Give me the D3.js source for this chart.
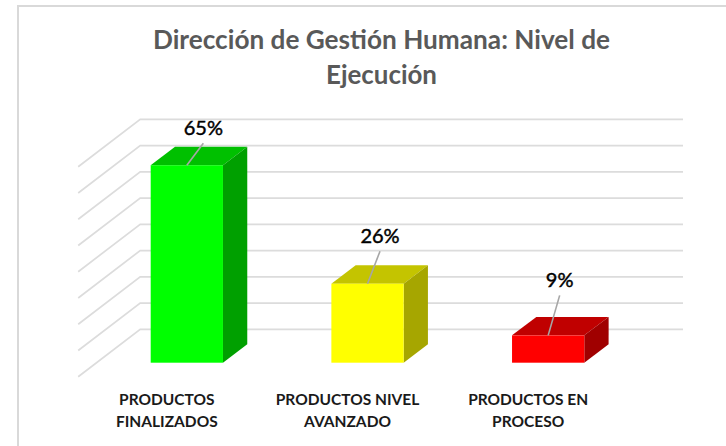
<!DOCTYPE html>
<html>
<head>
<meta charset="utf-8">
<script src="https://cdn.jsdelivr.net/npm/d3@7"></script>
<style>
html, body { margin: 0; padding: 0; background: #fff; }
svg { display: block; }
text { font-family: Lato, sans-serif; }
</style>
</head>
<body>
<div id="chart"></div>
<script>
var w = 726;
var h = 446;

var titleLines = ["Dirección de Gestión Humana: Nivel de", "Ejecución"];
var categories = [["PRODUCTOS", "FINALIZADOS"], ["PRODUCTOS NIVEL", "AVANZADO"], ["PRODUCTOS EN", "PROCESO"]];
var values = [65, 26, 9];
var gridTicks = [0, 8.64, 17.28, 25.92, 34.56, 43.2, 51.84, 60.48, 69.12];

// colours per bar: front, top, side
var barColors = [
    ["#00ff00", "#00c000", "#00a000"],
    ["#ffff00", "#c4c400", "#a6a600"],
    ["#ff0000", "#c00000", "#a00000"]
];
// where the leader line ends, relative to the middle of the bar top
var leaderEnds = [[16.5, -22], [12.5, -32.5], [11.5, -40]];
// the title font is wider than the reference, so squeeze each line to this length
var titleWidths = [457, 111];

var depthX = 24.3;
var depthY = 18.4;
var floorX = 18.3;   // bars stand this far into the floor
var floorY = 14;

var svg = d3.select("#chart")
    .append("svg")
    .attr("width", w)
    .attr("height", h);

// chart frame
svg.append("path")
    .attr("d", "M18," + h + "V6H" + w)
    .attr("fill", "none")
    .attr("stroke", "#d9d9d9")
    .attr("stroke-width", 2);

//Create scale functions
var xScale = d3.scaleBand()
    .domain(d3.range(categories.length))
    .range([96.5, 638.5])
    .paddingInner(0.6)
    .paddingOuter(0.3);

var yScale = d3.scaleLinear()
    .domain([0, 69.12])
    .range([362.7, 152.7]);

var gridFrontX = xScale.range()[0] - floorX;
var gridBackX = gridFrontX + 62;
var gridRightX = 683;

//Grid: diagonal on the side wall, then across the back wall
svg.selectAll("path.grid")
    .data(gridTicks)
    .enter()
    .append("path")
    .attr("class", "grid")
    .attr("fill", "none")
    .attr("stroke", "#dcdcdc")
    .attr("stroke-width", 1.7)
    .attr("d", function(d) {
        var y = yScale(d) + floorY;
        return "M" + gridFrontX + "," + y + "L" + gridBackX + "," + (y - 47.4) + "H" + gridRightX;
    });

var bars = svg.selectAll("g.bar")
    .data(values)
    .enter()
    .append("g")
    .attr("class", "bar");

//Top face
bars.append("path")
    .attr("fill", function(d, i) { return barColors[i][1]; })
    .attr("d", function(d, i) {
        var x0 = xScale(i), x1 = x0 + xScale.bandwidth(), y = yScale(d);
        return "M" + x0 + "," + y + "L" + (x0 + depthX) + "," + (y - depthY) +
            "H" + (x1 + depthX) + "L" + x1 + "," + y + "Z";
    });

//Side face
bars.append("path")
    .attr("fill", function(d, i) { return barColors[i][2]; })
    .attr("d", function(d, i) {
        var x1 = xScale(i) + xScale.bandwidth(), y = yScale(d), y0 = yScale(0);
        return "M" + x1 + "," + y + "L" + (x1 + depthX) + "," + (y - depthY) +
            "V" + (y0 - depthY) + "L" + x1 + "," + y0 + "Z";
    });

//Front face
bars.append("rect")
    .attr("x", function(d, i) { return xScale(i); })
    .attr("y", function(d) { return yScale(d); })
    .attr("width", xScale.bandwidth())
    .attr("height", function(d) { return yScale(0) - yScale(d); })
    .attr("fill", function(d, i) { return barColors[i][0]; });

//Leader lines
bars.append("line")
    .attr("x1", function(d, i) { return xScale(i) + xScale.bandwidth() / 2; })
    .attr("y1", function(d) { return yScale(d); })
    .attr("x2", function(d, i) { return xScale(i) + xScale.bandwidth() / 2 + leaderEnds[i][0]; })
    .attr("y2", function(d, i) { return yScale(d) + leaderEnds[i][1]; })
    .attr("stroke", "#a6a6a6")
    .attr("stroke-width", 1.6);

//Value labels
bars.append("text")
    .text(function(d) { return d + "%"; })
    .attr("text-anchor", "middle")
    .attr("x", function(d, i) { return xScale(i) + xScale.bandwidth() / 2 + leaderEnds[i][0]; })
    .attr("y", function(d, i) { return yScale(d) + leaderEnds[i][1] - 8.5; })
    .attr("font-size", "20px")
    .attr("fill", "#000")
    .attr("stroke", "#000")
    .attr("stroke-width", 0.45);

//Category labels
var catLabels = svg.selectAll("text.cat")
    .data(categories)
    .enter()
    .append("text")
    .attr("class", "cat")
    .attr("text-anchor", "middle")
    .attr("font-size", "15.5px")
    .attr("font-weight", 700)
    .attr("fill", "#1a1a1a");

catLabels.selectAll("tspan")
    .data(function(d, i) { return d.map(function(t) { return { t: t, i: i }; }); })
    .enter()
    .append("tspan")
    .attr("x", function(d) { return xScale(d.i) + xScale.bandwidth() / 2 - 20; })
    .attr("y", function(d, j) { return 405 + j * 22; })
    .text(function(d) { return d.t; });

//Title
svg.selectAll("text.title")
    .data(titleLines)
    .enter()
    .append("text")
    .attr("class", "title")
    .attr("text-anchor", "middle")
    .attr("x", 381.5)
    .attr("y", function(d, i) { return 49 + i * 35; })
    .attr("font-size", "27px")
    .attr("font-weight", 700)
    .attr("fill", "#595959")
    .attr("textLength", function(d, i) { return titleWidths[i]; })
    .attr("lengthAdjust", "spacingAndGlyphs")
    .text(function(d) { return d; });
</script>
</body>
</html>
